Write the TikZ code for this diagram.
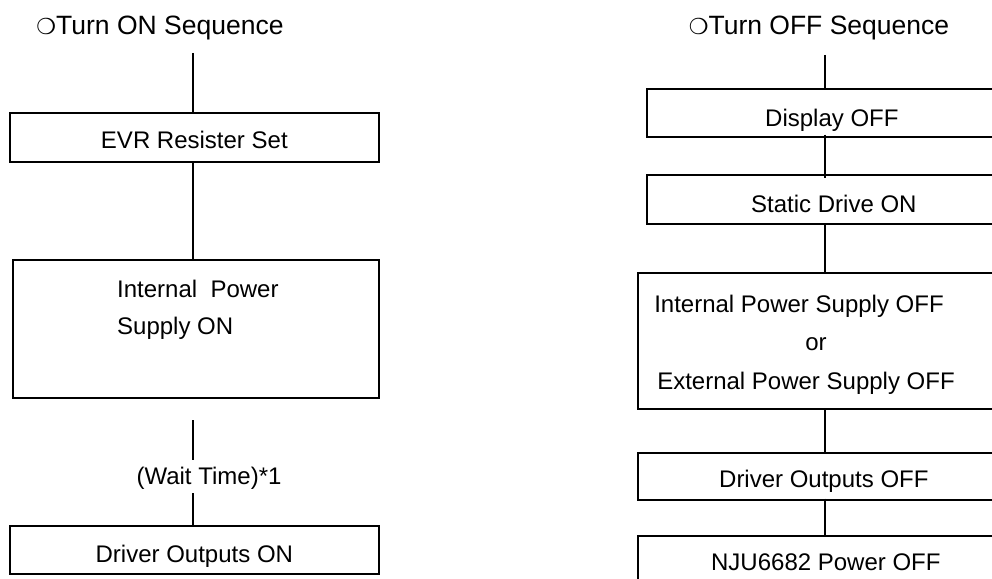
\documentclass[tikz,border=0pt]{standalone}
\usepackage{fontspec}
\setmainfont{Liberation Sans}
\newfontfamily\dingfont{DejaVu Sans}
\begin{document}
\begin{tikzpicture}[x=1pt,y=-1pt,
  every node/.style={font=\fontsize{24}{28}\selectfont, inner sep=0pt},
  stepbox/.style={draw, line width=1.7pt, rectangle, anchor=north west},
  plain/.style={anchor=base},
  link/.style={line width=1.7pt},
  titletext/.style={anchor=base, font=\fontsize{26.5}{30}\selectfont}]
\useasboundingbox (0,0) rectangle (992,578);
\clip (0,0) rectangle (992,578);

% ---------- Turn ON sequence ----------
\node[titletext] (ontitle) at (160,35) {{\dingfont\fontsize{22}{26}\selectfont ❍}Turn ON Sequence};
\coordinate (ontop) at (193,53);
\node[stepbox, minimum width=369pt, text height=36pt, text depth=13pt] (evr) at (9,112) {EVR Resister Set};
\node[stepbox, minimum width=366pt, minimum height=138pt] (ips) at (12,259) {};
\node[anchor=base west] (ipsa) at (117,297) {Internal\ \ Power};
\node[anchor=base west] (ipsb) at (117,334) {Supply ON};
\coordinate (waittop) at (193,420);
\coordinate (waitbot) at (193,493);
\node[plain] (wait) at (209,484) {(Wait Time)*1};
\node[stepbox, minimum width=369pt, text height=37pt, text depth=11pt] (drvon) at (9,525) {Driver Outputs ON};

\draw[link] (ontop) -- (ontop |- evr.north);
\draw[link] (evr.south -| ontop) -- (ips.north -| ontop);
\draw[link] (waittop) -- ++(0,40);
\draw[link] (waitbot) -- (drvon.north -| waitbot);

% ---------- Turn OFF sequence ----------
\node[titletext] (offtitle) at (819,35) {{\dingfont\fontsize{22}{26}\selectfont ❍}Turn OFF Sequence};
\coordinate (offtop) at (825,55);
\node[stepbox, minimum width=370pt, text height=38pt, text depth=10pt] (dispoff) at (646,88) {Display OFF};
\node[stepbox, minimum width=374pt, text height=38pt, text depth=11pt] (static) at (646,174) {Static Drive ON};
\node[stepbox, minimum width=380pt, minimum height=136pt] (supply) at (637,272) {};
\node[plain] (intoff) at (799,312) {Internal Power Supply OFF};
\node[plain] (ortext) at (816,350) {or};
\node[plain] (extoff) at (806,389) {External Power Supply OFF};
\node[stepbox, minimum width=372pt, text height=35pt, text depth=12pt] (drvoff) at (637,452) {Driver Outputs OFF};
\node[stepbox, minimum width=376pt, text height=35pt, text depth=20pt] (njuoff) at (637,535) {NJU6682 Power OFF};

% connectors; the short ones run a little way into the boxes they join
\draw[link] (offtop) -- (dispoff.north -| offtop);
\draw[link] ([yshift=3pt]dispoff.south -| offtop) -- ([yshift=-4pt]static.north -| offtop);
\draw[link] (static.south -| offtop) -- (supply.north -| offtop);
\draw[link] (supply.south -| offtop) -- (drvoff.north -| offtop);
\draw[link] ([yshift=2pt]drvoff.south -| offtop) -- ([yshift=-2pt]njuoff.north -| offtop);
\end{tikzpicture}
\end{document}
